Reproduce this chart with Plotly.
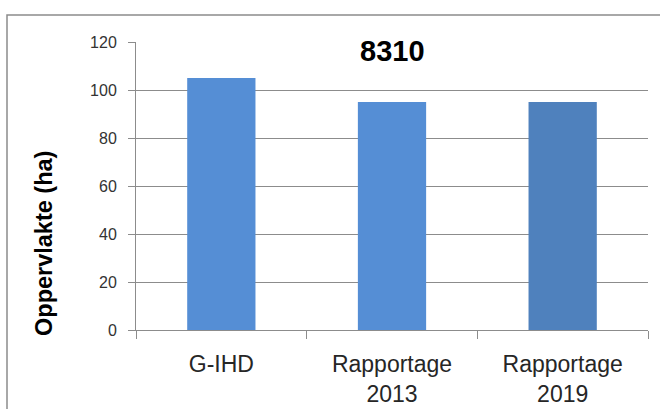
import plotly.graph_objects as go

categories = ["G-IHD", "Rapportage<br>2013", "Rapportage<br>2019"]
values = [105, 95, 95]
bar_colors = ["#558ED5", "#558ED5", "#4F81BD"]
y_ticks = [0, 20, 40, 60, 80, 100, 120]
title_text = "8310"
y_label = "Oppervlakte (ha)"

GRID = "#8C8C8C"
FONT = "Liberation Sans, Arial, sans-serif"

fig = go.Figure()
fig.add_trace(go.Bar(x=categories, y=values, marker=dict(color=bar_colors, line=dict(width=0)),
                     hoverinfo="x+y"))

fig.update_layout(
    width=660, height=409,
    margin=dict(l=136, r=12, t=42, b=79),
    paper_bgcolor="white", plot_bgcolor="white",
    bargap=0.6,
    showlegend=False,
    font=dict(family=FONT, color="#262626"),
)
fig.update_xaxes(
    showline=True, linecolor=GRID, linewidth=1,
    ticks="outside", tickson="boundaries", ticklen=8, tickcolor=GRID,
    tickfont=dict(size=23, family=FONT, color="#262626"),
    ticklabelstandoff=13,
    showgrid=False, automargin=False,
)
fig.update_yaxes(
    range=[0, 120], tickvals=y_ticks,
    showline=True, linecolor=GRID, linewidth=1,
    ticks="outside", ticklen=7, tickcolor=GRID,
    tickfont=dict(size=16, family=FONT, color="#333333"),
    ticklabelstandoff=8,
    showgrid=True, gridcolor=GRID, gridwidth=1,
    zeroline=False, automargin=False,
)
# outer chart border (clipped by the image edges)
fig.add_shape(type="rect", xref="paper", yref="paper",
              x0=(7 - 136) / 512, x1=1.2, y0=-0.6, y1=(330 - 15) / 288,
              line=dict(color=GRID, width=1.5), fillcolor="rgba(0,0,0,0)", layer="below")
# title with white box over the top gridline
fig.add_annotation(text="<b>" + title_text + "</b>", xref="paper", yref="paper",
                   x=0.5, y=(330 - 51) / 288, showarrow=False,
                   font=dict(size=29, family=FONT, color="#000000"),
                   bgcolor="white", borderpad=4, xanchor="center", yanchor="middle")
# y axis label
fig.add_annotation(text="<b>" + y_label + "</b>", xref="paper", yref="paper",
                   x=(44 - 136) / 512, y=(330 - 244) / 288, textangle=-90, showarrow=False,
                   font=dict(size=23.5, family=FONT, color="#000000"),
                   xanchor="center", yanchor="middle")

fig.write_html("out.html", config={"displayModeBar": False},
               post_script="document.body.style.margin='0';document.body.style.overflow='hidden';")
